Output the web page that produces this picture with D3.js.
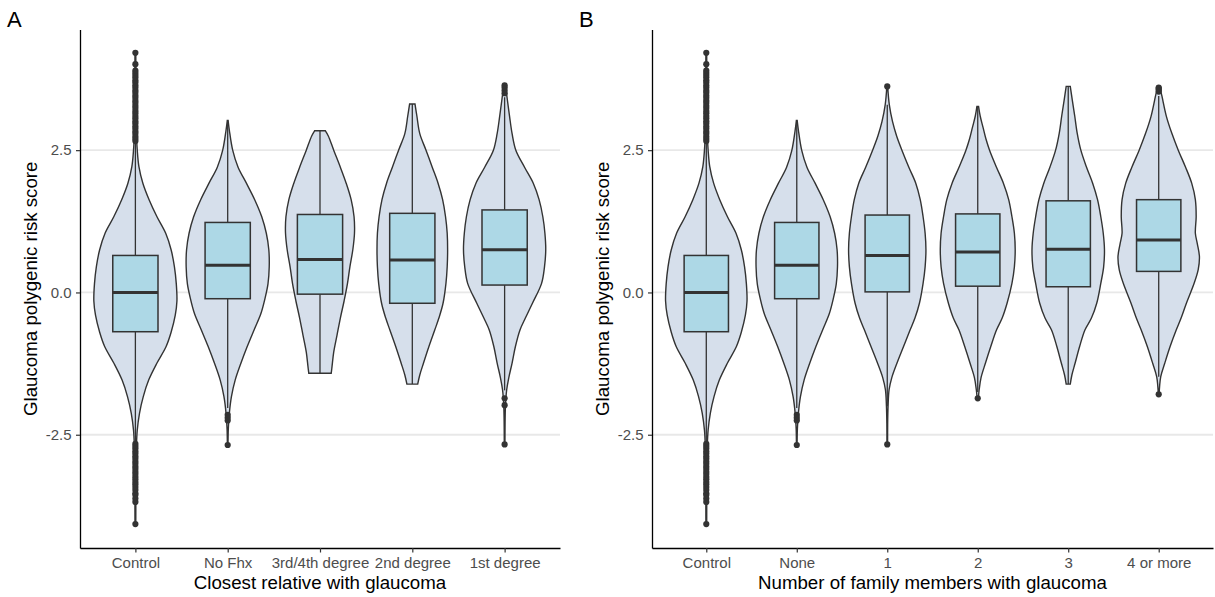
<!DOCTYPE html>
<html>
<head>
<meta charset="utf-8">
<script src="https://cdn.jsdelivr.net/npm/d3@7"></script>
<style>
body { margin: 0; background: #fff; }
svg { display: block; font-family: "Liberation Sans", Arial, sans-serif; }
</style>
</head>
<body>
<svg width="1215" height="597"></svg>
<script>
// values (polygenic risk score)
const yTicks = [-2.5, 0, 2.5]

// panel A: closest relative
const groupsA = ["Control", "No Fhx", "3rd/4th degree", "2nd degree", "1st degree"]
const q1A  = [-0.69, -0.11, -0.03, -0.19, 0.13]
const medA = [0.0, 0.48, 0.58, 0.57, 0.75]
const q3A  = [0.65, 1.23, 1.37, 1.39, 1.45]
const loA  = [-2.62, -2.03, -1.42, -1.61, -1.72]
const hiA  = [2.62, 3.02, 2.84, 3.31, 3.43]

// panel B: number of family members
const groupsB = ["Control", "None", "1", "2", "3", "4 or more"]
const q1B  = [-0.69, -0.11, 0.01, 0.11, 0.10, 0.37]
const medB = [0.0, 0.48, 0.65, 0.71, 0.76, 0.92]
const q3B  = [0.65, 1.23, 1.36, 1.38, 1.61, 1.63]
const loB  = [-2.62, -2.03, -2.0, -1.75, -1.61, -1.48]
const hiB  = [2.62, 3.02, 3.3, 3.27, 3.62, 3.45]

// outliers
const outControl = [2.66, 2.7, 2.74, 2.79, 2.83, 2.88, 2.92, 2.97, 3.01, 3.06, 3.1, 3.15, 3.19, 3.24, 3.28,
  3.33, 3.37, 3.42, 3.46, 3.51, 3.55, 3.6, 3.64, 3.69, 3.73, 3.78, 3.82, 3.86, 3.9, 4.01, 4.21,
  -2.66, -2.7, -2.74, -2.79, -2.83, -2.88, -2.92, -2.97, -3.01, -3.06, -3.1, -3.15, -3.19, -3.24,
  -3.28, -3.33, -3.37, -3.42, -3.47, -3.53, -3.56, -3.62, -3.68, -4.07]
const outNoFhx = [-2.15, -2.2, -2.25, -2.68]
const outFirst = [3.5, 3.55, 3.6, 3.64, -1.86, -1.98, -2.67]
const outOne = [3.62, -2.67]
const outTwo = [-1.86]
const outThree = []
const outFour = [3.53, 3.56, 3.58, 3.6, -1.79]

// violin outlines: [score, relative half width]
const vControl = [[4.21, 0.01], [3.9, 0.012], [3.5, 0.015], [3.0, 0.02], [2.7, 0.03], [2.5, 0.045], [2.21, 0.085],
  [1.92, 0.18], [1.63, 0.33], [1.33, 0.52], [1.04, 0.73], [0.75, 0.86], [0.45, 0.94], [0.15, 0.985],
  [-0.15, 1.0], [-0.4, 0.96], [-0.7, 0.86], [-0.95, 0.74], [-1.24, 0.52], [-1.54, 0.32], [-1.83, 0.19],
  [-2.12, 0.1], [-2.42, 0.045], [-2.7, 0.025], [-3.0, 0.017], [-3.5, 0.012], [-4.07, 0.01]]
const vNoFhx = [[3.02, 0.01], [2.85, 0.04], [2.5, 0.12], [2.2, 0.25], [1.92, 0.45], [1.63, 0.65], [1.33, 0.82],
  [1.04, 0.93], [0.75, 0.99], [0.45, 1.0], [0.15, 0.97], [-0.1, 0.9], [-0.37, 0.8], [-0.65, 0.64],
  [-0.95, 0.47], [-1.24, 0.32], [-1.54, 0.18], [-1.83, 0.09], [-2.12, 0.04], [-2.4, 0.015], [-2.68, 0.008]]
const vThird = [[2.84, 0.13], [2.75, 0.2], [2.5, 0.33], [2.2, 0.49], [1.92, 0.63], [1.63, 0.75], [1.33, 0.82],
  [1.04, 0.83], [0.75, 0.79], [0.45, 0.72], [0.15, 0.66], [-0.15, 0.58], [-0.45, 0.49], [-0.75, 0.41],
  [-1.05, 0.33], [-1.3, 0.29], [-1.42, 0.27]]
const vSecond = [[3.31, 0.065], [3.1, 0.11], [2.79, 0.18], [2.5, 0.33], [2.2, 0.48], [1.92, 0.62], [1.63, 0.73],
  [1.33, 0.8], [1.04, 0.84], [0.75, 0.85], [0.45, 0.84], [0.16, 0.81], [-0.19, 0.74], [-0.45, 0.64],
  [-0.66, 0.54], [-0.95, 0.4], [-1.24, 0.27], [-1.45, 0.18], [-1.61, 0.13]]
const vFirst = [[3.65, 0.02], [3.39, 0.065], [3.09, 0.12], [2.79, 0.18], [2.5, 0.27], [2.2, 0.48], [1.92, 0.69],
  [1.63, 0.83], [1.33, 0.92], [1.04, 0.97], [0.75, 0.99], [0.45, 0.96], [0.16, 0.89], [-0.19, 0.67],
  [-0.45, 0.5], [-0.66, 0.37], [-0.95, 0.26], [-1.24, 0.18], [-1.5, 0.1], [-1.71, 0.05], [-2.0, 0.02], [-2.67, 0.008]]
const vOne = [[3.62, 0.01], [3.3, 0.05], [3.0, 0.13], [2.75, 0.23], [2.5, 0.36], [2.2, 0.53], [1.92, 0.7],
  [1.63, 0.81], [1.33, 0.88], [1.04, 0.93], [0.75, 0.95], [0.45, 0.93], [0.16, 0.88], [-0.19, 0.79],
  [-0.45, 0.68], [-0.66, 0.56], [-0.95, 0.4], [-1.24, 0.24], [-1.5, 0.11], [-1.71, 0.045], [-2.0, 0.02],
  [-2.3, 0.01], [-2.67, 0.008]]
const vTwo = [[3.27, 0.02], [3.1, 0.06], [2.9, 0.13], [2.7, 0.2], [2.5, 0.29], [2.2, 0.46], [1.92, 0.63],
  [1.63, 0.76], [1.33, 0.84], [1.04, 0.9], [0.75, 0.92], [0.45, 0.9], [0.16, 0.84], [-0.19, 0.72],
  [-0.45, 0.6], [-0.66, 0.46], [-0.95, 0.32], [-1.24, 0.19], [-1.5, 0.08], [-1.71, 0.035], [-1.86, 0.015]]
const vThree = [[3.62, 0.05], [3.38, 0.1], [3.1, 0.16], [2.8, 0.22], [2.5, 0.31], [2.2, 0.45], [1.92, 0.6],
  [1.63, 0.72], [1.33, 0.8], [1.04, 0.86], [0.75, 0.89], [0.45, 0.87], [0.16, 0.8], [-0.19, 0.7],
  [-0.45, 0.57], [-0.66, 0.41], [-0.95, 0.28], [-1.24, 0.17], [-1.45, 0.09], [-1.61, 0.05]]
const vFour = [[3.6, 0.03], [3.45, 0.08], [3.38, 0.1], [3.09, 0.19], [2.8, 0.32], [2.5, 0.48], [2.2, 0.66],
  [1.92, 0.81], [1.63, 0.9], [1.33, 0.92], [1.04, 0.9], [0.85, 0.95], [0.63, 1.0], [0.4, 0.97], [0.16, 0.87],
  [-0.19, 0.68], [-0.45, 0.55], [-0.66, 0.43], [-0.95, 0.28], [-1.24, 0.15], [-1.48, 0.05], [-1.79, 0.01]]

const violinsA = [vControl, vNoFhx, vThird, vSecond, vFirst]
const violinsB = [vControl, vNoFhx, vOne, vTwo, vThree, vFour]
const outliersA = [outControl, outNoFhx, [], [], outFirst]
const outliersB = [outControl, outNoFhx, outOne, outTwo, outThree, outFour]

const svg = d3.select("svg")

const ink = "#333333"

// y scale shared by both panels
const y = d3.scaleLinear()
  .domain([-4.49, 4.62])
  .range([548, 29.5])

const drawPanel = function (p) {
  const x = d3.scalePoint()
    .domain(p.groups)
    .range([p.left, p.right])
    .padding(0.6)

  const halfW = d3.scaleLinear()
    .domain([0, 1])
    .range([0, x.step() * 0.45])
  const boxW = x.step() * 0.49

  const g = svg.append("g")

  // grid lines at the major ticks
  g.selectAll("line.grid")
    .data(yTicks)
    .enter()
    .append("line")
    .attr("class", "grid")
    .attr("x1", p.left)
    .attr("x2", p.right)
    .attr("y1", d => y(d))
    .attr("y2", d => y(d))
    .attr("stroke", "#e8e8e8")
    .attr("stroke-width", 1.8)

  const rows = p.groups.map((name, i) => ({
    name: name, q1: p.q1[i], med: p.med[i], q3: p.q3[i],
    lo: p.lo[i], hi: p.hi[i], violin: p.violins[i], out: p.outliers[i]
  }))

  const cat = g.selectAll("g.cat")
    .data(rows)
    .enter()
    .append("g")
    .attr("class", "cat")
    .attr("transform", d => `translate(${x(d.name)},0)`)

  // violins
  const area = d3.area()
    .curve(d3.curveCatmullRom.alpha(0.5))
    .y(d => y(d[0]))
    .x0(d => -halfW(d[1]))
    .x1(d => halfW(d[1]))

  cat.append("path")
    .attr("d", d => area(d.violin))
    .attr("fill", "#d6dfeb")
    .attr("stroke", ink)
    .attr("stroke-width", 1.4)

  // whiskers
  cat.append("line")
    .attr("x1", 0).attr("x2", 0)
    .attr("y1", d => y(d.hi)).attr("y2", d => y(d.q3))
    .attr("stroke", ink).attr("stroke-width", 1.3)
  cat.append("line")
    .attr("x1", 0).attr("x2", 0)
    .attr("y1", d => y(d.q1)).attr("y2", d => y(d.lo))
    .attr("stroke", ink).attr("stroke-width", 1.3)

  // boxes
  cat.append("rect")
    .attr("x", -boxW / 2)
    .attr("width", boxW)
    .attr("y", d => y(d.q3))
    .attr("height", d => y(d.q1) - y(d.q3))
    .attr("fill", "#add8e6")
    .attr("stroke", ink)
    .attr("stroke-width", 1.5)

  cat.append("line")
    .attr("x1", -boxW / 2).attr("x2", boxW / 2)
    .attr("y1", d => y(d.med)).attr("y2", d => y(d.med))
    .attr("stroke", ink)
    .attr("stroke-width", 3)

  // outliers
  cat.selectAll("circle")
    .data(d => d.out)
    .enter()
    .append("circle")
    .attr("cx", 0)
    .attr("cy", d => y(d))
    .attr("r", 3.1)
    .attr("fill", ink)

  // axes
  const axisX = d3.axisBottom(x)
    .tickSizeInner(4.5)
    .tickSizeOuter(0)
    .tickPadding(5)
  const axisY = d3.axisLeft(y)
    .tickValues(yTicks)
    .tickFormat(d => d.toFixed(1))
    .tickSizeInner(4)
    .tickSizeOuter(0)
    .tickPadding(4.5)

  const gx = g.append("g")
    .attr("transform", `translate(0,${y.range()[0]})`)
    .call(axisX)
  const gy = g.append("g")
    .attr("transform", `translate(${p.left},0)`)
    .call(axisY)

  ;[gx, gy].forEach(a => {
    a.select(".domain").attr("stroke", "#000").attr("stroke-width", 1.3)
    a.selectAll(".tick line").attr("stroke", ink).attr("stroke-width", 1.2)
    a.selectAll(".tick text")
      .attr("fill", "#4d4d4d")
      .style("font-size", "15px")
      .style("font-family", '"Liberation Sans", Arial, sans-serif')
  })

  // axis titles
  g.append("text")
    .attr("x", (p.left + p.right) / 2)
    .attr("y", 589)
    .attr("text-anchor", "middle")
    .style("font-size", "18.7px")
    .text(p.xTitle)

  g.append("text")
    .attr("transform", `translate(${p.left - 43},${(y.range()[0] + y.range()[1]) / 2}) rotate(-90)`)
    .attr("text-anchor", "middle")
    .style("font-size", "18.7px")
    .text("Glaucoma polygenic risk score")

  // panel letter
  g.append("text")
    .attr("x", p.left - 73)
    .attr("y", 27)
    .style("font-size", "22px")
    .text(p.letter)
}

drawPanel({
  letter: "A", left: 80, right: 560, groups: groupsA,
  q1: q1A, med: medA, q3: q3A, lo: loA, hi: hiA,
  violins: violinsA, outliers: outliersA,
  xTitle: "Closest relative with glaucoma"
})

drawPanel({
  letter: "B", left: 652, right: 1213, groups: groupsB,
  q1: q1B, med: medB, q3: q3B, lo: loB, hi: hiB,
  violins: violinsB, outliers: outliersB,
  xTitle: "Number of family members with glaucoma"
})
</script>
</body>
</html>
